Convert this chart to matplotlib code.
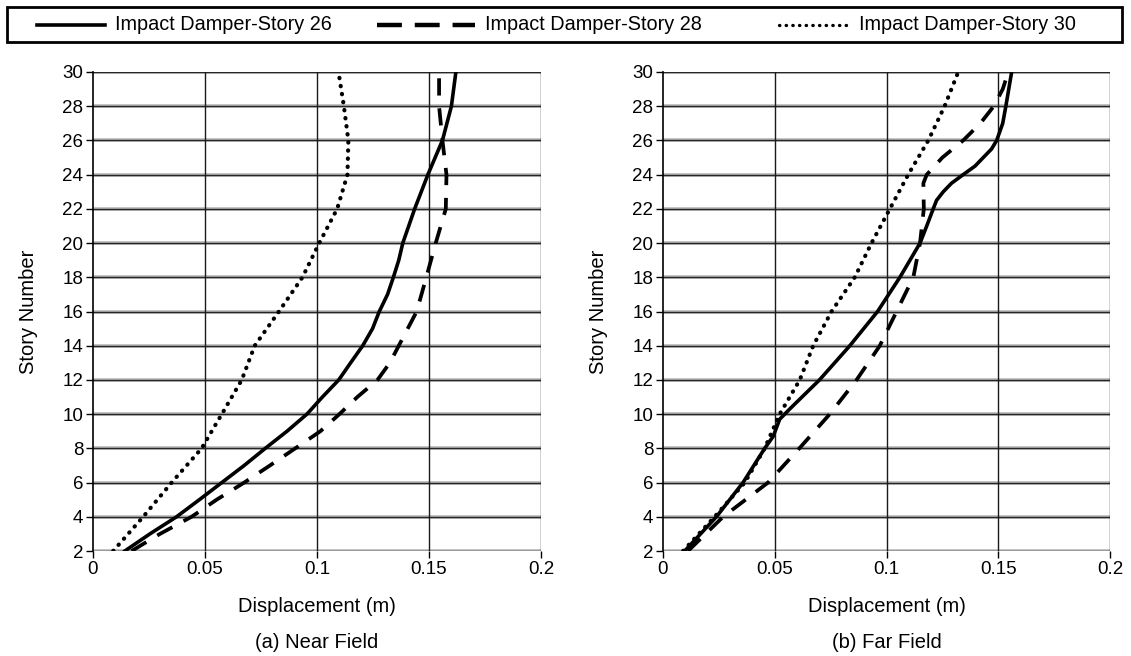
import numpy as np
import matplotlib.pyplot as plt
from matplotlib.lines import Line2D
from matplotlib.patches import Rectangle

plt.rcParams['font.family'] = ['Liberation Sans', 'DejaVu Sans']

# near field displacement profiles (m) against story number
near_st_26 = [2, 3, 4, 5, 6, 7, 8, 9, 10, 11, 12, 13, 14, 15, 16, 17, 18, 19, 20, 22, 24, 26, 28, 30]
near_26 = [0.0142, 0.0254, 0.0373, 0.0475, 0.0575, 0.0675, 0.0769, 0.0866, 0.0955, 0.1024,
           0.1097, 0.115, 0.1204, 0.1248, 0.1278, 0.1315, 0.1341, 0.1365, 0.1383, 0.1436,
           0.1495, 0.156, 0.160, 0.162]
near_st_28 = [2, 3, 4, 5, 6, 7, 8, 9, 10, 11, 12, 13, 14, 16, 18, 20, 22, 24, 26, 28, 30]
near_28 = [0.0172, 0.0299, 0.044, 0.0552, 0.0675, 0.079, 0.0903, 0.1015, 0.110, 0.118,
           0.127, 0.1325, 0.1365, 0.1445, 0.1488, 0.153, 0.1575, 0.1578, 0.156, 0.1545, 0.1545]
near_st_30 = [2, 4, 6, 8, 10, 12, 14, 16, 18, 20, 22, 24, 26, 28, 30]
near_30 = [0.009, 0.0224, 0.0351, 0.0485, 0.0575, 0.0664, 0.0722, 0.083,
           0.0935, 0.101, 0.109, 0.1136, 0.114, 0.112, 0.1096]

# far field displacement profiles (m) against story number
far_st_26 = [2, 4, 6, 8, 8.7, 9.7, 10.3, 12, 14, 16, 18, 20, 21, 22, 22.5, 23, 23.5,
             24, 24.5, 25, 25.5, 26, 27, 28, 30]
far_26 = [0.0097, 0.0239, 0.0358, 0.0455, 0.0493, 0.0522, 0.0567, 0.070, 0.0836, 0.096,
          0.106, 0.115, 0.118, 0.1209, 0.1224, 0.1254, 0.1291, 0.1343, 0.1396, 0.1433,
          0.147, 0.1493, 0.152, 0.1534, 0.156]
far_st_28 = [2, 4, 6, 8, 10, 12, 14, 16, 18, 20, 22, 23.5, 24, 25, 26, 27, 28, 29, 30]
far_28 = [0.0112, 0.0269, 0.047, 0.061, 0.0746, 0.0866, 0.097, 0.1045, 0.112,
          0.115, 0.1167, 0.1165, 0.118, 0.125, 0.1343, 0.142, 0.148, 0.152, 0.1545]
far_st_30 = [2, 4, 6, 8, 10, 12, 14, 16, 18, 20, 22, 24, 26, 28, 30]
far_30 = [0.009, 0.0231, 0.0366, 0.0455, 0.0522, 0.0612, 0.0672, 0.0754,
          0.0858, 0.0933, 0.1015, 0.1097, 0.1187, 0.126, 0.1321]

labels = ['Impact Damper-Story 26', 'Impact Damper-Story 28', 'Impact Damper-Story 30']
x_ticks = [0, 0.05, 0.1, 0.15, 0.2]
x_ticklabels = ['0', '0.05', '0.1', '0.15', '0.2']
y_ticks = list(range(2, 31, 2))

styles = [
    dict(color='black', lw=2.6, ls='-'),
    dict(color='black', lw=2.7, ls=(0, (4.6, 3.4))),
    dict(color='black', lw=3.0, ls=(0, (0.1, 1.85)), dash_capstyle='round'),
]

W, H = 1131, 656
fig = plt.figure(figsize=(W / 100, H / 100), dpi=100)


def fx(px):
    return px / W


def fy(py):
    return 1 - py / H


ax1 = fig.add_axes([fx(93), fy(551), fx(541) - fx(93), fy(72) - fy(551)])
ax2 = fig.add_axes([fx(663), fy(551), fx(1110) - fx(663), fy(72) - fy(551)])

panels = [
    (ax1, [(near_st_26, near_26), (near_st_28, near_28), (near_st_30, near_30)],
     '(a) Near Field', 29),
    (ax2, [(far_st_26, far_26), (far_st_28, far_28), (far_st_30, far_30)],
     '(b) Far Field', 598),
]

for ax, series, title, ylab_x in panels:
    for y in y_ticks:
        ax.axhline(y, color='0.72', lw=2.6, zorder=1)
        ax.axhline(y, color='0.15', lw=1.0, zorder=1.5)
    for x in x_ticks[1:]:
        ax.axvline(x, color='0.1', lw=1.0, zorder=1.5)
    for (st, d), sty in zip(series, styles):
        ax.plot(d, st, zorder=3, **sty)
    ax.set_xlim(0, 0.2)
    ax.set_ylim(2, 30)
    ax.set_xticks(x_ticks)
    ax.set_xticklabels(x_ticklabels)
    ax.set_yticks(y_ticks)
    for s in ['top', 'right', 'bottom']:
        ax.spines[s].set_visible(False)
    ax.spines['left'].set_linewidth(1.2)
    ax.tick_params(direction='out', length=5, width=1.0, labelsize=13.5, pad=2)

    pos = ax.get_position()
    cx = (pos.x0 + pos.x1) / 2
    fig.text(cx, fy(607), 'Displacement (m)', fontsize=14.5, ha='center', va='center')
    fig.text(cx, fy(643), title, fontsize=14.5, ha='center', va='center')
    fig.text(fx(ylab_x), (pos.y0 + pos.y1) / 2, 'Story Number', fontsize=14.5,
             rotation=90, ha='center', va='center')

# legend box across the top
fig.add_artist(Rectangle((fx(7), fy(42)), fx(1122) - fx(7), fy(7) - fy(42),
                         transform=fig.transFigure, fill=False,
                         edgecolor='black', lw=2.0))
row_y = fy(24.5)
handle_spans = [(37, 105), (377, 475), (779, 851)]
text_x = [115, 485, 859]
legend_styles = [
    dict(color='black', lw=2.6, ls='-'),
    dict(color='black', lw=3.2, ls=(0, (5.6, 2.9))),
    dict(color='black', lw=2.4, ls=(0, (0.1, 1.9)), dash_capstyle='round'),
]
for (a, b), tx, sty, lab in zip(handle_spans, text_x, legend_styles, labels):
    fig.add_artist(Line2D([fx(a), fx(b)], [row_y, row_y],
                          transform=fig.transFigure, **sty))
    fig.text(fx(tx), row_y, lab, fontsize=14.3, ha='left', va='center')

fig.savefig('out.png', dpi=100)
